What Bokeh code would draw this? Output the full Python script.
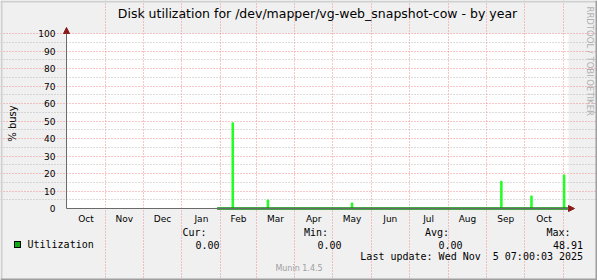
import pandas as pd
from math import pi
from bokeh.plotting import figure
from bokeh.models import Range1d, FixedTicker, Label, BoxAnnotation, Arrow, NormalHead
from bokeh.embed import file_html
from bokeh.resources import INLINE

# ---------------- data ----------------
title_text = "Disk utilization for /dev/mapper/vg-web_snapshot-cow - by year"
y_label = "% busy"
side_text = "RRDTOOL / TOBI OETIKER"
footer_text = "Munin 1.4.5"

period_start = "2024-10-01"
period_end = "2025-11-05"
month_starts = ["2024-10-01", "2024-11-01", "2024-12-01", "2025-01-01", "2025-02-01",
                "2025-03-01", "2025-04-01", "2025-05-01", "2025-06-01", "2025-07-01",
                "2025-08-01", "2025-09-01", "2025-10-01", "2025-11-01"]
month_names = ["Oct", "Nov", "Dec", "Jan", "Feb", "Mar", "Apr", "May", "Jun",
               "Jul", "Aug", "Sep", "Oct"]
y_ticks = [0, 10, 20, 30, 40, 50, 60, 70, 80, 90, 100]
y_minor_ticks = [5, 15, 25, 35, 45, 55, 65, 75, 85, 95]

util_dates = ["2025-01-29", "2025-02-10", "2025-02-11", "2025-03-10", "2025-03-11",
              "2025-05-16", "2025-05-17", "2025-09-12", "2025-09-13", "2025-10-06",
              "2025-10-07", "2025-11-01", "2025-11-02", "2025-11-05"]
util_values = [0.0, 48.91, 0.0, 4.8, 0.0, 3.0, 0.0, 15.5, 0.0, 7.0, 0.0, 19.0, 0.0, 0.0]

series_name = "Utilization"
stat_names = ["Cur:", "Min:", "Avg:", "Max:"]
stat_values = ["0.00", "0.00", "0.00", "48.91"]
last_update = "Last update: Wed Nov \u00a05 07:00:03 2025"


def ms(d):
    return pd.Timestamp(d).timestamp() * 1000.0


# ---------------- layout constants (canvas px) ----------------
W, H = 597, 280
PL, PR, PT, PB = 66, 568, 33, 208     # plot area edges

BG = "#F0F0F0"
SHADEA = "#CFCFCF"
SHADEB = "#9E9E9E"
MGRID = "#F08C8C"
GRID = "#B8B8B8"
AXIS = "#6A6A6A"
ARROW = "#8B1A1A"
LINE = "#22FF22"
SANS = "DejaVu Sans"
MONO = "DejaVu Sans Mono"

x0, x1 = ms(period_start), ms(period_end)
y0, y1 = y_ticks[0], y_ticks[-1]
kx = (PR - PL) / (x1 - x0)          # px per ms
ky = (PB - PT) / (y1 - y0)          # px per unit

p = figure(width=W, height=H,
           x_range=Range1d(x0 - PL / kx, x1 + (W - PR) / kx),
           y_range=Range1d(y0 - (H - PB) / ky, y1 + PT / ky),
           min_border=0, output_backend="svg", toolbar_location=None, title=None)
p.background_fill_color = BG
p.border_fill_color = BG
p.outline_line_color = None

# white plot canvas
p.quad(left=[x0], right=[x1], bottom=[y0], top=[y1], fill_color="white",
       line_color=None, level="image")

# ---- axes (drawn at fixed data locations, take no border space) ----
month_ms = [ms(d) for d in month_starts]
mid_ms = [round((a + b) / 2) for a, b in zip(month_ms[:-1], month_ms[1:])]
p.xaxis.fixed_location = y0
p.xaxis.bounds = (x0, x1)
p.xaxis.ticker = FixedTicker(ticks=mid_ms)
p.xaxis.major_label_overrides = {m: n for m, n in zip(mid_ms, month_names)}
p.xaxis.axis_line_color = None
p.xaxis.major_tick_line_color = None
p.xaxis.minor_tick_line_color = None
p.xaxis.major_label_standoff = -1
p.xaxis.major_label_text_font = SANS
p.xaxis.major_label_text_font_size = "9px"
p.xaxis.major_label_text_color = "black"

p.yaxis.fixed_location = x0
p.yaxis.bounds = (y0, y1)
p.yaxis.ticker = FixedTicker(ticks=y_ticks)
p.yaxis.axis_line_color = None
p.yaxis.major_tick_line_color = None
p.yaxis.minor_tick_line_color = None
p.yaxis.major_label_standoff = 5
p.yaxis.major_label_text_font = SANS
p.yaxis.major_label_text_font_size = "9px"
p.yaxis.major_label_text_color = "black"

# ---- grids ----
p.xgrid.ticker = FixedTicker(ticks=month_ms[1:])
p.xgrid.bounds = (y0, y1)
p.xgrid.grid_line_color = MGRID
p.xgrid.grid_line_dash = "1 2"

p.ygrid.ticker = FixedTicker(ticks=y_ticks[1:], minor_ticks=y_minor_ticks)
p.ygrid.bounds = (x0, x1)
p.ygrid.grid_line_color = MGRID
p.ygrid.grid_line_dash = "1 2"
p.ygrid.minor_grid_line_color = GRID
p.ygrid.minor_grid_line_dash = "1 2"

# ---- data ----
ux = [ms(d) for d in util_dates]
p.step(ux, util_values, mode="after", line_color=LINE, line_width=1.3)

# ---- axis lines with arrows ----
p.add_layout(Arrow(x_start=x0, y_start=y0, x_end=x1 + 6 / kx, y_end=y0,
                   line_color=AXIS, line_width=1,
                   end=NormalHead(size=6, fill_color=ARROW, line_color=ARROW)))
p.add_layout(Arrow(x_start=x0, y_start=y0, x_end=x0, y_end=y1 + 6 / ky,
                   line_color=AXIS, line_width=1,
                   end=NormalHead(size=6, fill_color=ARROW, line_color=ARROW)))
p.line([ux[0], ux[-1]], [0, 0], line_color="#1A8A1A", line_width=2.4)
p.line([ux[0], ux[-1]], [0, 0], line_color="black", line_width=1.2)


# ---- borders ----
def box(l, r, t, b, color):
    p.add_layout(BoxAnnotation(left=l, right=r, top=t, bottom=b,
                               left_units="canvas", right_units="canvas",
                               top_units="canvas", bottom_units="canvas",
                               fill_color=color, fill_alpha=1, line_color=None,
                               level="overlay"))


box(0, W, 0, 2, SHADEA)
box(0, 2, 0, H, SHADEA)
box(W - 2, W, 0, H, SHADEB)
box(0, W, H - 2, H, SHADEB)


# ---- texts ----
def label(text, cx, cy, font=SANS, size="9px", align="left", color="black", angle=0.0):
    p.add_layout(Label(x=cx, y=cy, x_units="canvas", y_units="canvas",
                       text=text, text_font=font, text_font_size=size,
                       text_align=align, text_baseline="middle",
                       text_color=color, angle=angle))


label(title_text, (PL + PR) / 2, 13, size="12.5px", align="center")
label(y_label, 12, 123, size="10px", align="center", angle=pi / 2)
label(side_text, 589, 6, size="8.5px", align="left", color="#B0B0B0", angle=-pi / 2)

box(13.5, 20.5, 240.5, 247.5, "black")
box(14.5, 19.5, 241.5, 246.5, "#11AA11")
label(series_name, 27, 244, font=MONO, size="10px")

stat_name_right = [206, 327.5, 448.6, 570]
stat_value_right = [219, 341, 462, 582.6]
for n, v, rn, rv in zip(stat_names, stat_values, stat_name_right, stat_value_right):
    label(n, rn, 232, font=MONO, size="10px", align="right")
    label(v, rv, 244, font=MONO, size="10px", align="right")

label(last_update, 582.6, 256, font=MONO, size="10px", align="right")
label(footer_text, W / 2, 268, size="8px", align="center", color="#A0A0A0")

open("out.html", "w").write(file_html(p, INLINE))
